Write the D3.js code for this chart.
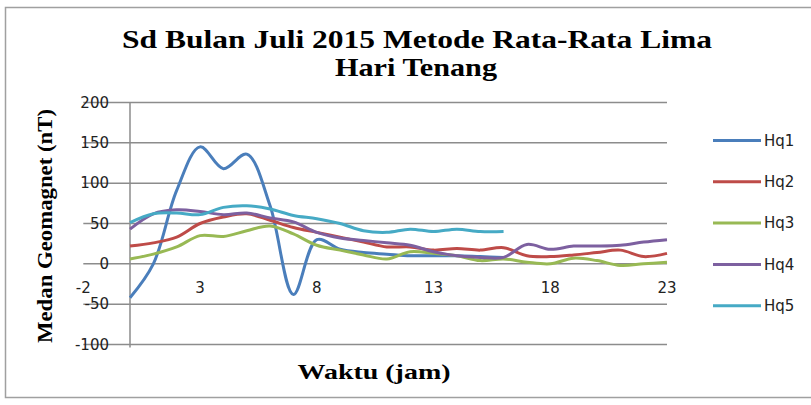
<!DOCTYPE html>
<html>
<head>
<meta charset="utf-8">
<script src="https://d3js.org/d3.v7.min.js"></script>
<style>
    body { margin: 0; background: #fff; }
    .tick-label { font-family: "DejaVu Sans", sans-serif; font-size: 15px; fill: #222; }
    .legend-label { font-family: "DejaVu Sans", sans-serif; font-size: 15px; fill: #222; }
    .title { font-family: "Liberation Serif", "Times New Roman", serif; font-weight: bold; fill: #000; }
</style>
</head>
<body>
<svg width="811" height="405"></svg>
<script>
var hours = [0, 1, 2, 3, 4, 5, 6, 7, 8, 9, 10, 11, 12, 13, 14, 15, 16, 17, 18, 19, 20, 21, 22, 23];
var hq1 = [-42, 0, 91, 145, 118, 136, 72, -38, 30, 18, 14, 12, 10, 10, 10, 9, 8];
var hq2 = [22, 26, 33, 50, 58, 62, 54, 45, 39, 33, 27, 21, 21, 17, 19, 17, 20, 10, 9, 11, 14, 17, 9, 13];
var hq3 = [6, 12, 21, 35, 34, 41, 47, 37, 23, 17, 11, 6, 15, 13, 10, 4, 6, 2, 0, 7, 4, -2, 0, 2];
var hq4 = [43, 62, 67, 65, 61, 63, 57, 52, 39, 32, 29, 26, 23, 15, 10, 8, 8, 24, 18, 22, 22, 23, 27, 30];
var hq5 = [51, 62, 63, 61, 70, 72, 68, 60, 56, 50, 41, 39, 43, 40, 43, 40, 40];
var seriesNames = ["Hq1", "Hq2", "Hq3", "Hq4", "Hq5"];
var colors = ["#4a7ebb", "#be4b48", "#98b954", "#7d60a0", "#46aac5"];
var xTicks = [-2, 3, 8, 13, 18, 23];
var yTicks = [-100, -50, 0, 50, 100, 150, 200];

var svg = d3.select("svg");

var x = d3.scaleLinear().domain([-2, 23]).range([83.3, 667]);
var y = d3.scaleLinear().domain([-100, 200]).range([344.5, 102.5]);

// outer chart border
svg.append("rect")
    .attr("x", 5.5).attr("y", 7.5)
    .attr("width", 830).attr("height", 390)
    .style("fill", "none")
    .style("stroke", "#a0a0a0")
    .style("stroke-width", 1.5);

// gridlines
svg.append("g")
    .selectAll("line")
    .data(yTicks)
    .enter().append("line")
    .attr("x1", x(-2)).attr("x2", x(23))
    .attr("y1", function(d) { return y(d); })
    .attr("y2", function(d) { return y(d); })
    .style("stroke", "#8c8c8c")
    .style("stroke-width", 1.5);

// vertical axis crosses at 0
svg.append("line")
    .attr("x1", x(0)).attr("x2", x(0))
    .attr("y1", y(200)).attr("y2", y(-100) + 3)
    .style("stroke", "#8c8c8c")
    .style("stroke-width", 1.5);

svg.append("g")
    .selectAll("text")
    .data(yTicks)
    .enter().append("text")
    .attr("class", "tick-label")
    .attr("x", 109)
    .attr("y", function(d) { return y(d); })
    .attr("dy", "0.35em")
    .attr("text-anchor", "end")
    .text(function(d) { return d; });

svg.append("g")
    .selectAll("text")
    .data(xTicks)
    .enter().append("text")
    .attr("class", "tick-label")
    .attr("x", function(d) { return x(d); })
    .attr("y", y(0) + 24)
    .attr("dy", "0.35em")
    .attr("text-anchor", "middle")
    .text(function(d) { return d; });

var line = d3.line()
    .x(function(d) { return x(d[0]); })
    .y(function(d) { return y(d[1]); })
    .curve(d3.curveCatmullRom);

var allSeries = [hq1, hq2, hq3, hq4, hq5].map(function(vals) {
    return vals.map(function(v, i) { return [hours[i], v]; });
});

svg.append("g")
    .selectAll("path")
    .data(allSeries)
    .enter().append("path")
    .attr("d", line)
    .style("fill", "none")
    .style("stroke", function(d, i) { return colors[i]; })
    .style("stroke-width", 3)
    .style("stroke-linejoin", "round");

// legend
var legend = svg.append("g")
    .selectAll("g")
    .data(seriesNames)
    .enter().append("g")
    .attr("transform", function(d, i) { return "translate(713," + (140.5 + i * 41.3) + ")"; });

legend.append("line")
    .attr("x1", 0).attr("x2", 48)
    .style("stroke", function(d, i) { return colors[i]; })
    .style("stroke-width", 3);

legend.append("text")
    .attr("class", "legend-label")
    .attr("x", 51)
    .attr("dy", "0.35em")
    .text(function(d) { return d; });

// titles
svg.append("text")
    .attr("class", "title")
    .attr("x", 417).attr("y", 48)
    .attr("text-anchor", "middle")
    .style("font-size", "25px")
    .attr("textLength", 590)
    .attr("lengthAdjust", "spacingAndGlyphs")
    .text("Sd Bulan  Juli 2015 Metode Rata-Rata Lima");

svg.append("text")
    .attr("class", "title")
    .attr("x", 416).attr("y", 76)
    .attr("text-anchor", "middle")
    .style("font-size", "25px")
    .attr("textLength", 162)
    .attr("lengthAdjust", "spacingAndGlyphs")
    .text("Hari Tenang");

svg.append("text")
    .attr("class", "title")
    .attr("x", 374).attr("y", 379)
    .attr("text-anchor", "middle")
    .style("font-size", "21px")
    .attr("textLength", 153)
    .attr("lengthAdjust", "spacingAndGlyphs")
    .text("Waktu (jam)");

svg.append("text")
    .attr("class", "title")
    .attr("transform", "translate(52,226) rotate(-90)")
    .attr("text-anchor", "middle")
    .style("font-size", "21px")
    .attr("textLength", 234)
    .attr("lengthAdjust", "spacingAndGlyphs")
    .text("Medan Geomagnet (nT)");
</script>
</body>
</html>
